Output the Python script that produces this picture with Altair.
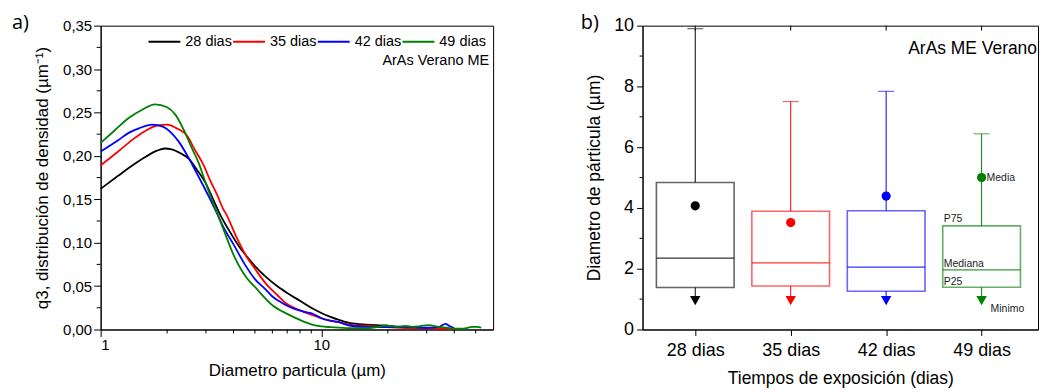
import altair as alt
import pandas as pd

# ---------------- data: panel a) ----------------
series = ["28 dias", "35 dias", "42 dias", "49 dias"]
colors = ["#000000", "#ff0000", "#0000ff", "#008000"]

d_28 = [1.0, 1.2, 1.34, 1.6, 1.8, 1.95, 2.1, 2.3, 2.5, 2.73, 2.97, 3.3, 3.47, 3.8, 4.27, 4.6, 5.0, 5.64,
        6.3, 7.0, 8.0, 9.0, 10.0, 11.0, 12.0, 13.4, 16.0, 19.0, 23.0, 27.0, 32.0, 37.0]
q_28 = [0.162, 0.177, 0.186, 0.199, 0.206, 0.2085, 0.2075, 0.203, 0.197, 0.184, 0.170, 0.145, 0.133, 0.115,
        0.0945, 0.084, 0.073, 0.060, 0.050, 0.042, 0.033, 0.025, 0.019, 0.0145, 0.011, 0.0075, 0.0055,
        0.0046, 0.003, 0.0023, 0.0015, 0.001]

d_35 = [1.0, 1.2, 1.4, 1.6, 1.8, 2.0, 2.2, 2.5, 2.62, 2.97, 3.13, 3.36, 3.59, 3.72, 4.13, 4.58, 5.0, 5.64,
        6.3, 6.93, 8.0, 9.0, 10.0, 11.0, 12.0, 13.4, 16.0, 19.0, 23.0, 28.0, 33.0, 40.0]
q_35 = [0.189, 0.205, 0.219, 0.229, 0.235, 0.236, 0.232, 0.221, 0.211, 0.186, 0.172, 0.156, 0.139, 0.132,
        0.106, 0.084, 0.070, 0.052, 0.040, 0.030, 0.022, 0.017, 0.013, 0.010, 0.0085, 0.0057, 0.004,
        0.003, 0.002, 0.0015, 0.001, 0.0008]

d_42 = [1.0, 1.2, 1.34, 1.5, 1.71, 1.9, 2.1, 2.25, 2.5, 2.7, 2.9, 3.3, 3.6, 4.0, 4.5, 5.0, 5.6, 6.0, 6.7,
        7.5, 8.5, 9.14, 10.0, 12.0, 13.4, 16.0, 19.0, 24.0, 30.0, 34.0, 36.5, 38.0, 39.0, 40.0]
q_42 = [0.205, 0.218, 0.2265, 0.232, 0.236, 0.234, 0.226, 0.217, 0.198, 0.182, 0.167, 0.1385, 0.118, 0.098,
        0.075, 0.058, 0.046, 0.038, 0.030, 0.024, 0.020, 0.018, 0.013, 0.0084, 0.0046, 0.003, 0.0027,
        0.003, 0.002, 0.003, 0.0065, 0.004, 0.0027, 0.001]

d_49 = [1.0, 1.15, 1.34, 1.55, 1.76, 2.0, 2.18, 2.4, 2.59, 2.8, 2.97, 3.3, 3.58, 4.05, 4.6, 5.0, 6.0, 7.0,
        8.0, 9.0, 10.0, 11.0, 13.4, 16.0, 18.0, 19.6, 22.0, 24.0, 26.0, 28.0, 30.6, 34.0, 37.0, 40.0,
        44.0, 46.0, 48.0, 51.0, 53.0]
q_49 = [0.215, 0.2287, 0.2437, 0.2535, 0.2594, 0.256, 0.2475, 0.228, 0.209, 0.190, 0.171, 0.140, 0.117,
        0.083, 0.059, 0.049, 0.028, 0.018, 0.011, 0.006, 0.0035, 0.0027, 0.0015, 0.0015, 0.003, 0.0046,
        0.003, 0.004, 0.003, 0.004, 0.005, 0.003, 0.002, 0.001, 0.001, 0.002, 0.003, 0.003, 0.002]

x_major = [1, 10]
x_minor = [2, 3, 4, 5, 6, 7, 8, 9, 20, 30, 40, 50]
y_major_a = [0, 0.05, 0.10, 0.15, 0.20, 0.25, 0.30, 0.35]
y_minor_a = [0.025, 0.075, 0.125, 0.175, 0.225, 0.275, 0.325]

# ---------------- data: panel b) ----------------
positions = [1, 2, 3, 4]
q1 = [1.38, 1.43, 1.26, 1.39]
median = [2.35, 2.19, 2.05, 1.96]
q3 = [4.84, 3.89, 3.91, 3.41]
mean = [4.07, 3.52, 4.39, 5.0]
minimum = [0.95, 0.95, 0.95, 0.95]
maximum = [9.9, 7.5, 7.84, 6.44]
y_major_b = [0, 2, 4, 6, 8, 10]
y_minor_b = [1, 3, 5, 7, 9]

FONT = "Liberation Sans"

rows = []
for s, ds, qs in zip(series, [d_28, d_35, d_42, d_49], [q_28, q_35, q_42, q_49]):
    for d, q in zip(ds, qs):
        rows.append({"serie": s, "d": d, "q": q})
df_a = pd.DataFrame(rows)

comma_expr = "replace(format(datum.value, '.2f'), '.', ',')"

xs_a = alt.Scale(type="log", domain=[1, 60])
ys_a = alt.Scale(domain=[0, 0.35])
col_scale = alt.Scale(domain=series, range=colors)

W_A, H = 394, 305
W_B = 397

lines = alt.Chart(df_a).mark_line(strokeWidth=1.8, interpolate="monotone").encode(
    x=alt.X("d:Q", scale=xs_a, axis=alt.Axis(values=x_major, format="~g", title="Diametro particula (µm)",
                                             tickSize=7, labelPadding=1, titlePadding=10,
                                             labelFontSize=15, titleFontSize=17, orient="bottom")),
    y=alt.Y("q:Q", scale=ys_a, axis=alt.Axis(values=y_major_a, labelExpr=comma_expr,
                                             title="q3, distribución de densidad (µm⁻¹)",
                                             tickSize=7, labelPadding=2, titlePadding=11,
                                             labelFontSize=15, titleFontSize=17, orient="left")),
    color=alt.Color("serie:N", scale=col_scale,
                    legend=alt.Legend(orient="none", legendX=47, legendY=-1, direction="horizontal",
                                      title=None, symbolType="stroke", symbolSize=1024,
                                      symbolStrokeWidth=2, labelFontSize=14.5, labelFont=FONT,
                                      labelColor="black", labelOffset=4, columnPadding=-5, padding=0)),
)

# minor ticks drawn through the scales
minor_xa = alt.Chart(pd.DataFrame({"v": x_minor})).mark_rule(color="black", strokeWidth=1).encode(
    x=alt.X("v:Q", scale=xs_a, axis=None), y=alt.value(H), y2=alt.value(H + 4))
minor_ya = alt.Chart(pd.DataFrame({"v": y_minor_a})).mark_rule(color="black", strokeWidth=1).encode(
    y=alt.Y("v:Q", scale=ys_a, axis=None), x=alt.value(0), x2=alt.value(-4))

note_a = alt.Chart(pd.DataFrame({"t": ["ArAs Verano ME"]})).mark_text(
    align="right", baseline="middle", fontSize=14.5, font=FONT, color="black"
).encode(text="t:N", x=alt.value(390), y=alt.value(35))

tag_a = alt.Chart(pd.DataFrame({"t": ["a)"]})).mark_text(
    align="left", baseline="middle", fontSize=20, font="Open Sans", color="black"
).encode(text="t:N", x=alt.value(-89), y=alt.value(-3))

panel_a = alt.layer(lines, minor_xa, minor_ya, note_a, tag_a).resolve_axis(
    x="independent", y="independent").properties(width=W_A, height=H)

# ---------------- panel b) ----------------
df_b = pd.DataFrame({"serie": series, "pos": positions, "q1": q1, "median": median, "q3": q3,
                     "mean": mean, "min": minimum, "max": maximum})

label_expr_b = "[" + ",".join("'%s'" % s for s in series) + "][datum.value - 1]"
xs_b = alt.Scale(domain=[0.5, 0.5 + W_B / 98.3])
ys_b = alt.Scale(domain=[0, 10])
col_b = alt.Color("serie:N", scale=col_scale, legend=None)

base_b = alt.Chart(df_b)
x_main = alt.X("pos:Q", scale=xs_b, axis=alt.Axis(values=positions, labelExpr=label_expr_b,
                                                  title="Tiempos de exposición (dias)", tickSize=6,
                                                  labelPadding=6, titlePadding=10, labelFontSize=18,
                                                  titleFontSize=17.5, orient="bottom"))
x_plain = alt.X("pos:Q", scale=xs_b, axis=None)

whisk_up = base_b.mark_rule(strokeWidth=1).encode(
    x=x_main,
    y=alt.Y("q3:Q", scale=ys_b, axis=alt.Axis(values=y_major_b, title="Diametro de párticula (µm)",
                                              tickSize=6, labelPadding=3, titlePadding=10,
                                              labelFontSize=18, titleFontSize=17.5, orient="left")),
    y2="max:Q", color=col_b)
cap = base_b.mark_tick(orient="horizontal", size=16, thickness=1).encode(
    x=x_plain, y=alt.Y("max:Q", scale=ys_b, axis=None), color=col_b)
whisk_lo = base_b.mark_rule(strokeWidth=1).encode(
    x=x_plain, y=alt.Y("min:Q", scale=ys_b, axis=None), y2="q1:Q", color=col_b)
box = base_b.mark_bar(filled=False, size=78, strokeWidth=1.6, opacity=0.6).encode(
    x=x_plain, y=alt.Y("q1:Q", scale=ys_b, axis=None), y2="q3:Q", color=col_b)
med = base_b.mark_tick(orient="horizontal", size=78, thickness=1.2, opacity=0.8).encode(
    x=x_plain, y=alt.Y("median:Q", scale=ys_b, axis=None), color=col_b)
mean_pt = base_b.mark_circle(size=85, opacity=1).encode(
    x=x_plain, y=alt.Y("mean:Q", scale=ys_b, axis=None), color=col_b)
min_pt = base_b.mark_point(shape="triangle-down", filled=True, size=110, opacity=1).encode(
    x=x_plain, y=alt.Y("min:Q", scale=ys_b, axis=None), color=col_b)
top_ticks = base_b.mark_rule(color="black", strokeWidth=1).encode(
    x=x_plain, y=alt.value(0), y2=alt.value(5))
minor_yb = alt.Chart(pd.DataFrame({"v": y_minor_b})).mark_rule(color="black", strokeWidth=1).encode(
    y=alt.Y("v:Q", scale=ys_b, axis=None), x=alt.value(0), x2=alt.value(-3))

# annotations on the last box (49 dias)
ann_text = ["Media", "P75", "Mediana", "P25", "Minimo"]
ann_field = ["mean", "q3", "median", "q1", "min"]
ann_dx = [5, -38, -38, -38, 9]
ann_dy = [0, -2, -1, 0, 8]
ann_base = ["middle", "bottom", "bottom", "bottom", "middle"]
last = df_b.iloc[[3]]
ann_layers = []
for t, f, dx, dy, bl in zip(ann_text, ann_field, ann_dx, ann_dy, ann_base):
    dfa = pd.DataFrame({"pos": [last["pos"].iloc[0]], "v": [last[f].iloc[0]], "t": [t]})
    ann_layers.append(alt.Chart(dfa).mark_text(align="left", baseline=bl, dx=dx, dy=dy, fontSize=10.5,
                                               font=FONT, color="#222222").encode(
        x=x_plain, y=alt.Y("v:Q", scale=ys_b, axis=None), text="t:N"))

note_b = alt.Chart(pd.DataFrame({"t": ["ArAs ME Verano"]})).mark_text(
    align="right", baseline="middle", fontSize=17.5, font=FONT, color="black"
).encode(text="t:N", x=alt.value(W_B - 1), y=alt.value(23))

tag_b = alt.Chart(pd.DataFrame({"t": ["b)"]})).mark_text(
    align="left", baseline="middle", fontSize=20, font="Open Sans", color="black"
).encode(text="t:N", x=alt.value(-62), y=alt.value(-3))

panel_b = alt.layer(whisk_up, cap, whisk_lo, box, med, mean_pt, min_pt, top_ticks, minor_yb,
                    *ann_layers, note_b, tag_b).resolve_axis(
    x="independent", y="independent").properties(width=W_B, height=H)

chart = alt.hconcat(panel_a, panel_b, spacing=86,
                    padding={"left": 3, "top": 3, "right": 0, "bottom": 0}).configure_view(
    stroke="black", strokeWidth=1).configure_axis(
    domainColor="black", tickColor="black", labelColor="black", titleColor="black", grid=False,
    labelFont=FONT, titleFont=FONT, titleFontWeight="normal", domainWidth=1, tickWidth=1)

chart.save("out.html", embed_options={"renderer": "svg", "actions": False})
